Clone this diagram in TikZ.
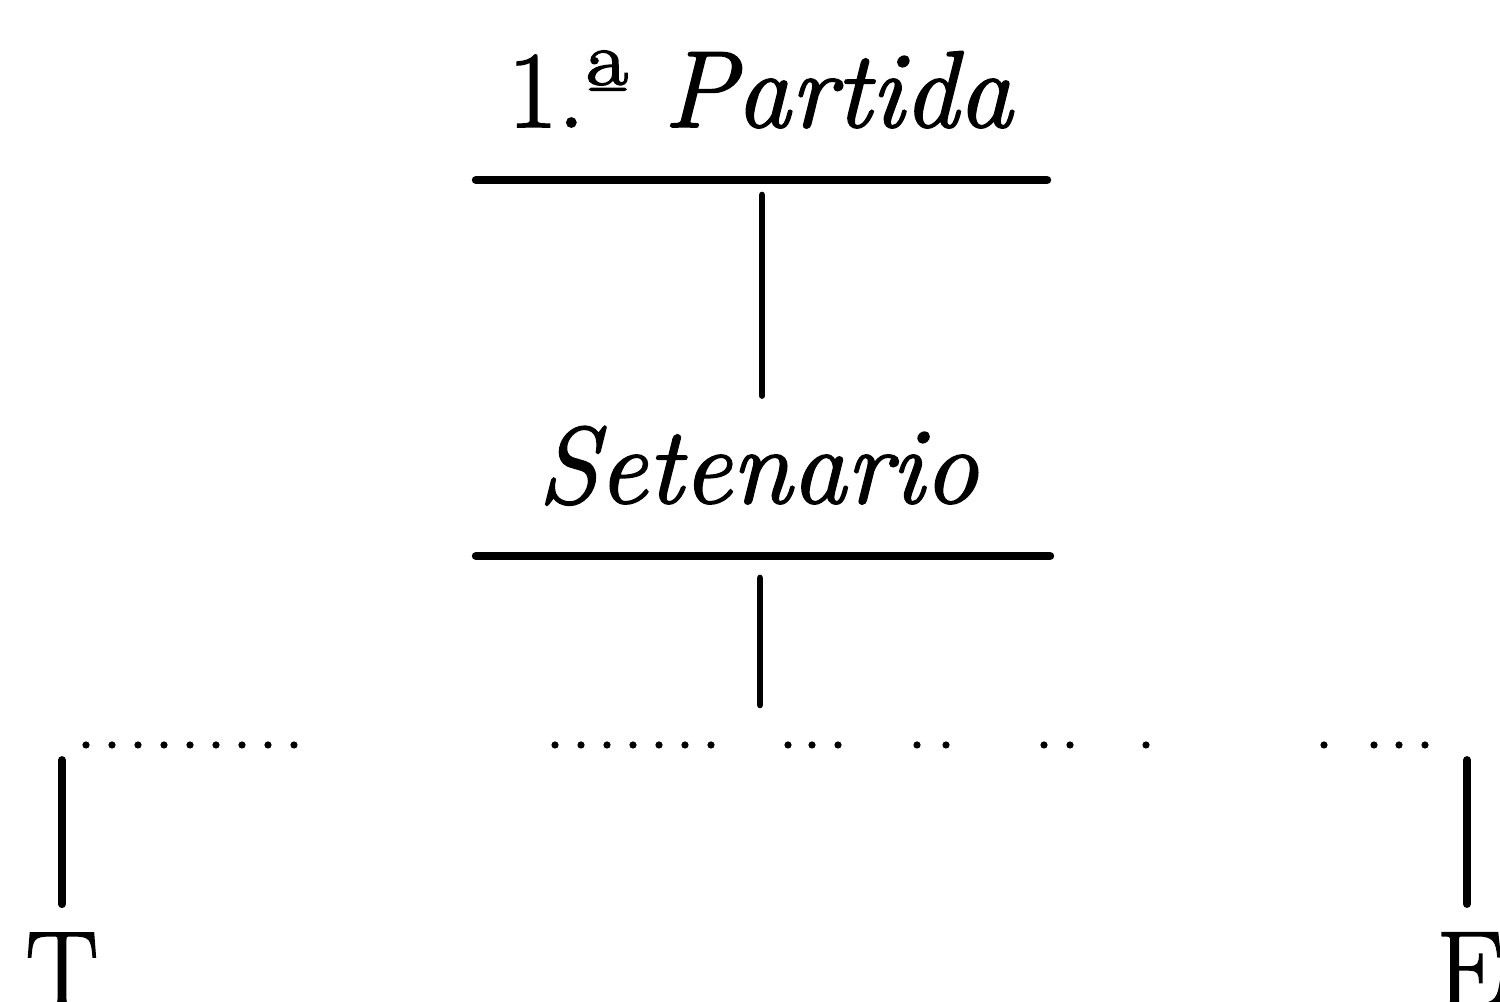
\documentclass[tikz,border=0pt]{standalone}
\usepackage{fontspec}
\newfontfamily\heavyserif{Latin Modern Roman}[FakeBold=1.6, ItalicFeatures={FakeBold=1.6}]
\usetikzlibrary{positioning,calc}

\begin{document}
\begin{tikzpicture}[
    title/.style={font=\fontsize{31}{36}\selectfont\heavyserif\itshape, inner sep=0pt, anchor=base},
    leaf/.style={font=\fontsize{31}{36}\selectfont\heavyserif, inner sep=0pt, anchor=base},
    rule/.style={line width=2.4pt, line cap=round},
    stem/.style={line width=1.9pt, line cap=round},
    dot/.style={fill=black}
]
\useasboundingbox (0,0) rectangle (15,10.02);

\node[title] (partida) at (7.60,8.75) {\upshape 1.ª \itshape Partida};
\node[title] (setenario) at (7.58,4.99) {Setenario};
\node[leaf] (t) at (0.62,-0.05) {T};
\node[leaf] (e) at (14.71,-0.05) {E};

% rules under the titles
\coordinate (r1w) at (4.76,8.22);
\coordinate (r1e) at (10.47,8.22);
\coordinate (r2w) at (4.76,4.46);
\coordinate (r2e) at (10.50,4.46);
\draw[rule] (r1w) -- (r1e);
\draw[rule] (r2w) -- (r2e);

% stems
\coordinate (s1) at (7.62,8.07);
\coordinate (s2) at (7.60,4.24);
\coordinate (s2b) at (7.60,2.97);
\coordinate (tl) at (0.62,2.42);
\coordinate (el) at (14.67,2.42);
\draw[stem] (s1) -- ([yshift=0.30cm]setenario.north -| s1);
\draw[stem] (s2) -- (s2b);
\draw[stem, line width=2.2pt] (tl) -- ([yshift=0.28cm]t.north -| tl);
\draw[stem, line width=2.2pt] (el) -- ([yshift=0.28cm]e.north -| el);

% broken dotted bar
\foreach \x in {0.86,1.12,...,2.95,5.55,5.81,...,7.20,7.88,8.12,8.38,9.17,9.46,10.44,10.70,11.46,13.24,13.74,13.99,14.25}
  \fill[dot] (\x,2.57) circle (0.036);
\end{tikzpicture}
\end{document}
